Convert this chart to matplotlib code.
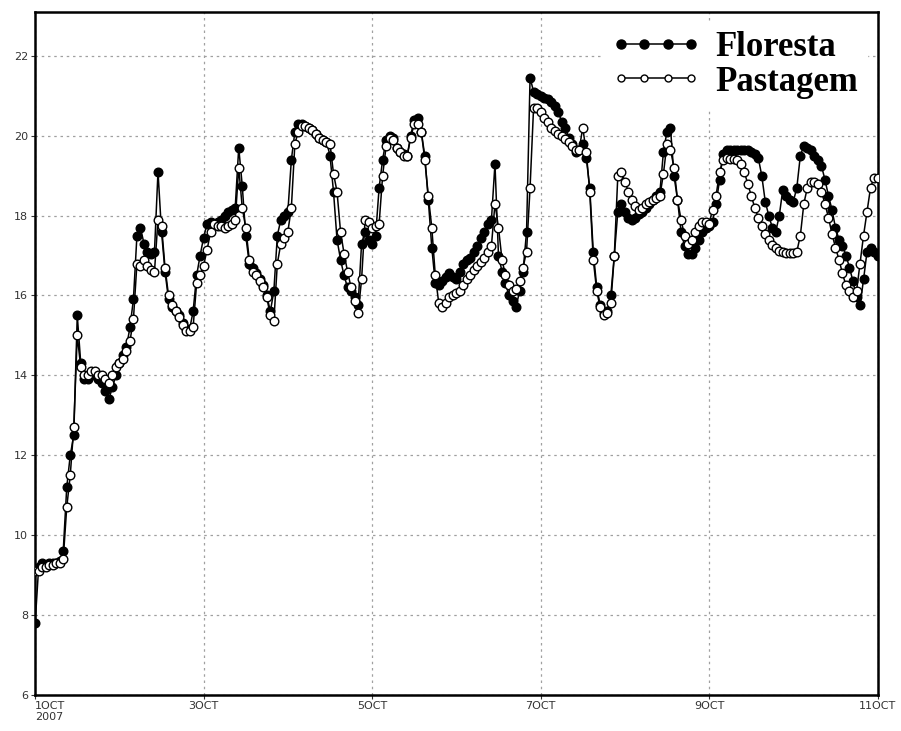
#!/usr/bin/env python3

import numpy as np
import pandas as pd
import matplotlib
matplotlib.use("Agg")
import matplotlib.pyplot as plt
import matplotlib.dates as mdates

# hourly temperature, 1 Oct 2007 00h .. 11 Oct 2007 00h
floresta = [
    7.8, 9.2, 9.3, 9.25, 9.3, 9.3, 9.3, 9.35, 9.6, 11.2, 12.0, 12.5,
    15.5, 14.3, 13.9, 13.9, 14.0, 14.0, 13.9, 13.8, 13.6, 13.4, 13.7, 14.0,
    14.3, 14.5, 14.7, 15.2, 15.9, 17.5, 17.7, 17.3, 17.1, 17.05, 17.1, 19.1,
    17.6, 16.6, 15.9, 15.7, 15.6, 15.5, 15.3, 15.15, 15.15, 15.6, 16.5, 17.0,
    17.45, 17.8, 17.85, 17.8, 17.85, 17.9, 18.0, 18.1, 18.15, 18.2, 19.7, 18.75,
    17.5, 16.8, 16.7, 16.55, 16.4, 16.25, 16.0, 15.6, 16.1, 17.5, 17.9, 18.0,
    18.1, 19.4, 20.1, 20.3, 20.3, 20.25, 20.2, 20.15, 20.05, 19.95, 19.9, 19.85,
    19.5, 18.6, 17.4, 16.9, 16.5, 16.2, 16.1, 15.95, 15.75, 17.3, 17.6, 17.4,
    17.3, 17.5, 18.7, 19.4, 19.9, 20.0, 19.95, 19.7, 19.6, 19.55, 19.5, 20.0,
    20.4, 20.45, 20.1, 19.5, 18.4, 17.2, 16.3, 16.25, 16.35, 16.45, 16.55, 16.45,
    16.4, 16.6, 16.8, 16.9, 16.95, 17.1, 17.25, 17.45, 17.6, 17.8, 17.9, 19.3,
    17.0, 16.6, 16.3, 16.0, 15.85, 15.72, 16.1, 16.6, 17.6, 21.45, 21.1, 21.03,
    21.0, 20.95, 20.92, 20.85, 20.75, 20.6, 20.35, 20.2, 19.95, 19.8, 19.6, 19.65,
    19.8, 19.45, 18.7, 17.1, 16.2, 15.75, 15.55, 15.6, 16.0, 17.0, 18.1, 18.3,
    18.1, 17.95, 17.9, 17.95, 18.05, 18.1, 18.2, 18.3, 18.4, 18.5, 18.6, 19.6,
    20.1, 20.2, 19.0, 18.4, 17.6, 17.25, 17.05, 17.05, 17.2, 17.4, 17.6, 17.7,
    17.73, 17.85, 18.3, 18.9, 19.55, 19.65, 19.65, 19.65, 19.63, 19.63, 19.65, 19.65,
    19.6, 19.55, 19.45, 19.0, 18.35, 18.0, 17.7, 17.6, 18.0, 18.65, 18.5, 18.4,
    18.35, 18.7, 19.5, 19.75, 19.7, 19.65, 19.5, 19.4, 19.25, 18.9, 18.5, 18.15,
    17.7, 17.4, 17.25, 17.0, 16.7, 16.35, 15.95, 15.75, 16.4, 17.1, 17.2, 17.1,
    17.0,
]

pastagem = [
    9.1, 9.1, 9.2, 9.2, 9.25, 9.25, 9.3, 9.3, 9.4, 10.7, 11.5, 12.7,
    15.0, 14.2, 14.0, 14.0, 14.1, 14.1, 14.0, 14.0, 13.9, 13.8, 14.0, 14.2,
    14.3, 14.4, 14.6, 14.85, 15.4, 16.8, 16.75, 16.9, 16.75, 16.65, 16.6, 17.9,
    17.75, 16.7, 16.0, 15.75, 15.6, 15.45, 15.25, 15.1, 15.1, 15.2, 16.3, 16.5,
    16.75, 17.15, 17.6, 17.8, 17.75, 17.75, 17.7, 17.75, 17.8, 17.88, 19.2, 18.2,
    17.7, 16.9, 16.6, 16.5, 16.35, 16.2, 15.95, 15.5, 15.35, 16.8, 17.3, 17.45,
    17.6, 18.2, 19.8, 20.1, 20.25, 20.25, 20.2, 20.15, 20.05, 19.95, 19.9, 19.85,
    19.8, 19.05, 18.6, 17.6, 17.05, 16.6, 16.2, 15.85, 15.55, 16.4, 17.9, 17.85,
    17.7, 17.75, 17.8, 19.0, 19.75, 19.95, 19.9, 19.7, 19.6, 19.5, 19.5, 19.95,
    20.3, 20.3, 20.1, 19.4, 18.5, 17.7, 16.5, 15.8, 15.7, 15.8, 15.95, 16.0,
    16.05, 16.1, 16.25, 16.4, 16.5, 16.65, 16.75, 16.85, 16.95, 17.1, 17.25, 18.3,
    17.7, 16.9, 16.5, 16.25, 16.1, 16.15, 16.35, 16.7, 17.1, 18.7, 20.7, 20.7,
    20.6, 20.45, 20.35, 20.2, 20.12, 20.05, 20.0, 19.92, 19.83, 19.75, 19.63, 19.65,
    20.2, 19.6, 18.6, 16.9, 16.1, 15.7, 15.5, 15.55, 15.8, 17.0, 19.0, 19.1,
    18.85, 18.6, 18.4, 18.25, 18.15, 18.2, 18.3, 18.35, 18.4, 18.45, 18.5, 19.05,
    19.8, 19.65, 19.2, 18.4, 17.9, 17.5, 17.3, 17.4, 17.6, 17.75, 17.85, 17.85,
    17.8, 18.15, 18.5, 19.1, 19.4, 19.45, 19.42, 19.42, 19.4, 19.3, 19.1, 18.8,
    18.5, 18.2, 17.95, 17.75, 17.55, 17.4, 17.27, 17.2, 17.12, 17.1, 17.07, 17.07,
    17.07, 17.1, 17.5, 18.3, 18.7, 18.85, 18.85, 18.8, 18.6, 18.3, 17.95, 17.55,
    17.2, 16.9, 16.55, 16.25, 16.12, 15.95, 16.1, 16.8, 17.5, 18.1, 18.7, 18.95,
    18.95,
]

tick_labels = ["1OCT\n2007", "3OCT", "5OCT", "7OCT", "9OCT", "11OCT"]
y_ticks = [6, 8, 10, 12, 14, 16, 18, 20, 22]

times = pd.date_range("2007-10-01 00:00", periods=len(floresta), freq="h")
tick_dates = pd.date_range("2007-10-01", "2007-10-11", freq="2D")

fig = plt.figure(figsize=(9.01, 7.31), dpi=100)
ax = fig.add_axes([0.039, 0.049, 0.935, 0.935])

ax.plot(times, floresta, color="black", lw=1.1, marker="o", ms=6.2,
        mfc="black", mec="black", label="Floresta", zorder=3)
ax.plot(times, pastagem, color="black", lw=1.1, marker="o", ms=6.2,
        mfc="white", mec="black", mew=1.0, label="Pastagem", zorder=4)

ax.set_xlim(times[0], times[-1])
ax.set_ylim(6, 23.1)
ax.set_yticks(y_ticks)
ax.set_yticklabels([str(v) for v in y_ticks])
ax.set_xticks(tick_dates)
ax.set_xticklabels(tick_labels)

ax.grid(True, color="#a0a0a0", linestyle=(0, (2, 3)), linewidth=0.9)
ax.set_axisbelow(True)
ax.tick_params(axis="both", labelsize=8, colors="#333333", length=3,
               direction="out", pad=2)
ax.tick_params(axis="x", pad=1)
ax.get_xticklabels()[0].set_horizontalalignment("left")
for side in ax.spines.values():
    side.set_linewidth(1.8)
    side.set_color("black")

leg = ax.legend(loc="upper right", numpoints=4, handlelength=2.6,
                handletextpad=0.42, labelspacing=0.05, borderpad=0.25,
                borderaxespad=0.3, bbox_to_anchor=(1.0, 1.0), fancybox=False,
                prop={"family": "Liberation Serif", "weight": "bold", "size": 25})
leg.get_frame().set_facecolor("white")
leg.get_frame().set_edgecolor("white")
leg.get_frame().set_alpha(1.0)
leg.legend_handles[0].set_markersize(6.5)
leg.legend_handles[1].set_markersize(5)

fig.savefig("out.png", dpi=100)
